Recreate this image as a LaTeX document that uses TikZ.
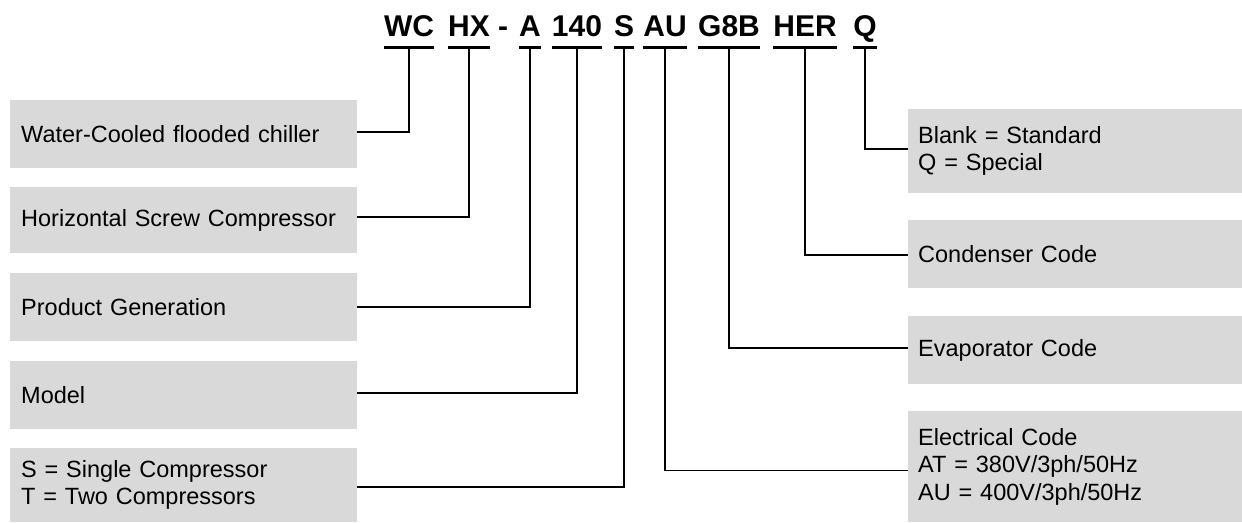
\documentclass[tikz,border=0pt]{standalone}
\usepackage{fontspec}
\setmainfont{Liberation Sans}
\usepackage{xcolor}
\usepackage{tikz}
\usetikzlibrary{calc, positioning}

\definecolor{boxgray}{RGB}{217,217,217}

\begin{document}
\begin{tikzpicture}[x=1pt, y=1pt,
    code/.style={inner sep=0pt, anchor=base, font=\fontsize{30}{36}\selectfont\bfseries},
    uline/.style={line width=2.4pt},
    link/.style={line width=1.3pt},
    lbox/.style={fill=boxgray, anchor=west, inner xsep=11pt, inner ysep=0pt,
        text width=325pt, align=left, font=\fontsize{23.5}{27.5}\selectfont},
    rbox/.style={fill=boxgray, anchor=west, inner xsep=10pt, inner ysep=0pt,
        text width=314pt, align=left, font=\fontsize{23.5}{27.5}\selectfont}]
    \useasboundingbox (0,0) rectangle (1242,522);

    % Mã sản phẩm
    \foreach \name/\txt/\x in {wc/WC/409, hx/HX/469, a/A/530, m/140/577,
                               s/S/624, au/AU/665, g/G8B/729, her/HER/805, q/Q/865} {
        \node[code] (\name) at (\x,485) {\txt};
        \coordinate (\name-u) at (\x,474.5);
        \draw[uline] (\name.west |- \name-u) -- (\name.east |- \name-u);
    }
    \node[code] (dash) at (503,485) {-};

    % Hộp bên trái
    \node[lbox, minimum height=68pt] (b1) at (10,388) {Water-Cooled flooded chiller};
    \node[lbox, minimum height=66pt] (b2) at (10,302) {Horizontal Screw Compressor};
    \node[lbox, minimum height=68pt] (b3) at (10,215) {Product Generation};
    \node[lbox, minimum height=68pt] (b4) at (10,127) {Model};
    \node[lbox, minimum height=74pt] (b5) at (10,37) {S = Single Compressor\\T = Two Compressors};

    % Hộp bên phải
    \node[rbox, minimum height=84pt] (r1) at (908,371) {Blank = Standard\\Q = Special};
    \node[rbox, minimum height=68pt] (r2) at (908,268) {Condenser Code};
    \node[rbox, minimum height=68pt] (r3) at (908,172) {Evaporator Code};
    \node[rbox, minimum height=111pt] (r4) at (908,55.5) {Electrical Code\\AT = 380V/3ph/50Hz\\AU = 400V/3ph/50Hz};

    % Đường nối
    \draw[link] ([yshift=2pt]b1.east) -| (wc-u);
    \draw[link] ([yshift=3pt]b2.east) -| (hx-u);
    \draw[link] (b3.east) -| (a-u);
    \draw[link] ([yshift=2pt]b4.east) -| (m-u);
    \draw[link] ([yshift=-2pt]b5.east) -| (s-u);
    \draw[link] ([yshift=-4pt]r4.west) -| (au-u);
    \draw[link] ([yshift=2pt]r3.west) -| (g-u);
    \draw[link] ([yshift=-1pt]r2.west) -| (her-u);
    \draw[link] ([yshift=2pt]r1.west) -| (q-u);

\end{tikzpicture}
\end{document}
